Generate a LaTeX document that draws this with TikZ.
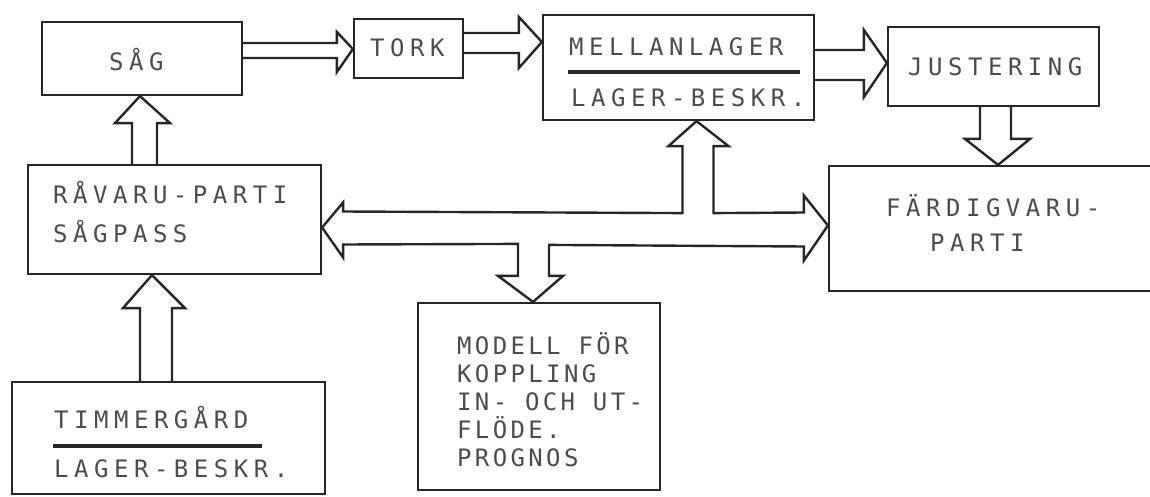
\documentclass[tikz,border=0pt]{standalone}
\usepackage{fontspec}
\newfontfamily\plotfont{DejaVu Sans Mono}[LetterSpace=23]
\newfontfamily\plotfontn{DejaVu Sans Mono}[LetterSpace=14]
\usetikzlibrary{positioning, calc}

\begin{document}
\begin{tikzpicture}[x=1pt, y=-1pt,
% Define custom styles for the boxes, the labels and the fat arrows
    box/.style={
        draw=black!85,
        rectangle,
        line width=2.2pt,
        inner sep=0pt
        },
    lbl/.style={
        anchor=base west,
        inner sep=0pt,
        text=black!70,
        font=\plotfont\fontsize{24}{28}\selectfont
        },
    lbln/.style={lbl, font=\plotfontn\fontsize{24}{28}\selectfont},
    fat/.style={draw=black!85, line width=2.4pt},
    bar/.style={draw=black!85, line width=4pt}
]
\useasboundingbox (0,0) rectangle (1150,497);

\node[box, minimum width=200pt, minimum height=73pt] (sag) at (142,58.5) {};
\node[box, minimum width=109pt, minimum height=59pt] (tork) at (408.5,48.5) {};
\node[box, minimum width=271pt, minimum height=105pt] (mell) at (678.5,67.5) {};
\node[box, minimum width=211pt, minimum height=79pt] (just) at (993.5,66.5) {};
\node[box, minimum width=346pt, minimum height=125pt] (fard) at (1002,228.5) {};
\node[box, minimum width=293pt, minimum height=109pt] (ravaru) at (174.5,219.5) {};
\node[box, minimum width=242pt, minimum height=187pt] (modell) at (539,396.5) {};
\node[box, minimum width=313pt, minimum height=112pt] (timmer) at (168.5,438) {};

\node[lbl] (sagT) at (109,71) {SÅG};
\node[lbl] (torkT) at (370,57) {TORK};
\node[lbl] (mellT) at (569,56) {MELLANLAGER};
\node[lbl] (mellB) at (571,107) {LAGER-BESKR.};
\node[lbl] (justT) at (908,76) {JUSTERING};
\node[lbl] (fardT) at (886,216) {FÄRDIGVARU-};
\node[lbl] (fardB) at (930,251) {PARTI};
\node[lbl] (ravT) at (53,204) {RÅVARU-PARTI};
\node[lbl] (ravB) at (53,242) {SÅGPASS};
\node[lbl] (timT) at (54,428) {TIMMERGÅRD};
\node[lbl] (timB) at (54,477) {LAGER-BESKR.};
\node[lbln] (mod1) at (457,354) {MODELL FÖR};
\node[lbln] (mod2) at (457,382) {KOPPLING};
\node[lbln] (mod3) at (457,410) {IN- OCH UT-};
\node[lbln] (mod4) at (457,438) {FLÖDE.};
\node[lbln] (mod5) at (457,466) {PROGNOS};

\draw[bar] ($(mell.west)+(26,4.5)$) -- ($(mell.east)+(-15,4.5)$);
\draw[bar] ($(timmer.west)+(42,8)$) -- ($(timmer.west)+(251,8)$);

\draw[fat] ($(sag.east)+(0,-15.5)$) -- ($(tork.west)+(-16,-5.5)$) -- ($(tork.west)+(-16,-16.5)$)
    -- ($(tork.west)+(0,0.5)$) -- ($(tork.west)+(-16,23.5)$) -- ($(tork.west)+(-16,9.5)$) -- ($(sag.east)+(0,-0.5)$);

\draw[fat] ($(tork.east)+(0,-15.5)$) -- ($(mell.west)+(-23,-34.5)$) -- ($(mell.west)+(-23,-50.5)$)
    -- ($(mell.west)+(0,-25.5)$) -- ($(mell.west)+(-23,0.5)$) -- ($(mell.west)+(-23,-14.5)$) -- ($(tork.east)+(0,4.5)$);

\draw[fat] ($(mell.east)+(0,-17.5)$) -- ($(just.west)+(-23,-16.5)$) -- ($(just.west)+(-23,-36.5)$)
    -- ($(just.west)+(0,-3.5)$) -- ($(just.west)+(-23,30.5)$) -- ($(just.west)+(-23,13.5)$) -- ($(mell.east)+(0,12.5)$);

\draw[fat] ($(just.south)+(-13.5,0)$) -- ($(fard.north)+(-22,-26)$) -- ($(fard.north)+(-37,-26)$)
    -- ($(fard.north)+(-4,0)$) -- ($(fard.north)+(28,-26)$) -- ($(fard.north)+(9,-26)$) -- ($(just.south)+(17.5,0)$);

\draw[fat] ($(ravaru.north)+(-42.5,0)$) -- ($(sag.south)+(-10,27)$) -- ($(sag.south)+(-27,27)$)
    -- ($(sag.south)+(-2,0)$) -- ($(sag.south)+(28,27)$) -- ($(sag.south)+(15,27)$) -- ($(ravaru.north)+(-17.5,0)$);

\draw[fat] ($(timmer.north)+(-28.5,0)$) -- ($(ravaru.south)+(-34.5,33)$) -- ($(ravaru.south)+(-51.5,33)$)
    -- ($(ravaru.south)+(-22.5,0)$) -- ($(ravaru.south)+(10.5,33)$) -- ($(ravaru.south)+(-2.5,33)$) -- ($(timmer.north)+(3.5,0)$);

% the shared flow line with its four heads
\coordinate (lt) at ($(ravaru.east)+(0,8)$);
\coordinate (ut) at ($(mell.south)+(18,0)$);
\coordinate (rt) at ($(fard.west)+(0,-3)$);
\coordinate (dt) at ($(modell.north)+(-6,0)$);
\draw[fat] ($(lt)+(21,-16)$) -- ($(ut)+(-14,92)$) -- ($(ut)+(-14,25)$) -- ($(ut)+(-28,25)$)
    -- (ut) -- ($(ut)+(32,25)$) -- ($(ut)+(17,25)$) -- ($(ut)+(17,92)$)
    -- ($(rt)+(-24,-13)$) -- ($(rt)+(-24,-30)$) -- (rt) -- ($(rt)+(-24,35)$) -- ($(rt)+(-24,21)$)
    -- ($(dt)+(16,-57)$) -- ($(dt)+(16,-26)$) -- ($(dt)+(30,-26)$) -- (dt) -- ($(dt)+(-35,-26)$) -- ($(dt)+(-15,-26)$)
    -- ($(dt)+(-15,-58)$) -- ($(lt)+(21,17)$) -- ($(lt)+(21,30)$) -- (lt) -- ($(lt)+(21,-25)$) -- cycle;

\end{tikzpicture}
\end{document}
